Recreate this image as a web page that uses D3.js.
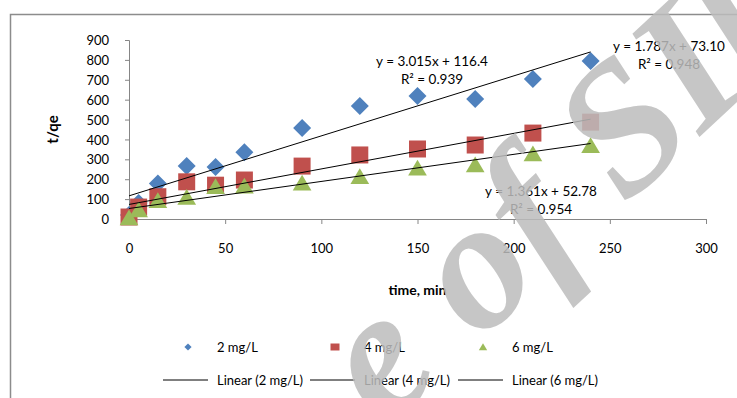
<!DOCTYPE html>
<html>
<head>
  <meta charset="utf-8">
  <title>t/qe vs time</title>
  <script src="https://d3js.org/d3.v7.min.js"></script>
  <style>
    body { margin: 0; background: #fff; }
    svg { display: block; font-family: Lato, 'Open Sans', sans-serif; }
    .tick text { font-size: 13px; fill: #000; }
  </style>
</head>
<body>
  <div id="chart"></div>
  <script>
    // time (min) and t/qe for each dose
    const times = [0, 5, 15, 30, 45, 60, 90, 120, 150, 180, 210, 240];
    const tq2 = [20, 80, 178, 267, 262, 335, 457, 568, 618, 603, 704, 795];
    const tq4 = [10, 60, 112, 187, 170, 196, 266, 322, 352, 372, 432, 487];
    const tq6 = [5, 45, 92, 108, 162, 165, 180, 212, 255, 272, 327, 368];
    const seriesNames = ["2 mg/L", "4 mg/L", "6 mg/L"];
    const colors = ["#4F81BD", "#C0504D", "#9BBB59"];

    // trendlines as drawn (slope, intercept)
    const slopes = [3.015, 1.787, 1.361];
    const intercepts = [116.4, 73.10, 52.78];
    const eqLabels = ["y = 3.015x + 116.4", "y = 1.787x + 73.10", "y = 1.361x + 52.78"];
    const r2Labels = ["R² = 0.939", "R² = 0.948", "R² = 0.954"];

    const xTicks = [0, 50, 100, 150, 200, 250, 300];
    const yTicks = [0, 100, 200, 300, 400, 500, 600, 700, 800, 900];

    const W = 737, H = 398;
    const svg = d3.select("#chart").append("svg")
      .attr("width", W).attr("height", H);

    // chart frame
    svg.append("rect")
      .attr("x", 10.5).attr("y", 14.5)
      .attr("width", 760).attr("height", 420)
      .attr("fill", "none").attr("stroke", "#8c8c8c").attr("stroke-width", 1.5);

    const x = d3.scaleLinear().domain([0, 300]).range([129, 706]);
    const y = d3.scaleLinear().domain([0, 900]).range([219, 40]);

    const xAxis = svg.append("g")
      .attr("transform", `translate(0,${y(0)})`)
      .call(d3.axisBottom(x).tickValues(xTicks).tickSize(5).tickPadding(20));
    const yAxis = svg.append("g")
      .attr("transform", `translate(${x(0)},0)`)
      .call(d3.axisLeft(y).tickValues(yTicks).tickSize(4).tickPadding(16));
    [xAxis, yAxis].forEach(g => {
      g.select(".domain").attr("stroke", "#868686");
      g.selectAll(".tick line").attr("stroke", "#868686");
      g.selectAll(".tick text").style("font-family", "Lato, sans-serif");
    });
    yAxis.selectAll(".tick text").attr("dy", "0.35em");

    svg.append("text")
      .attr("x", (x(0) + x(300)) / 2).attr("y", 295)
      .attr("text-anchor", "middle")
      .attr("font-size", 14).attr("font-weight", "bold")
      .text("time, min");
    svg.append("text")
      .attr("transform", `translate(58,${(y(0) + y(900)) / 2}) rotate(-90)`)
      .attr("text-anchor", "middle")
      .attr("font-size", 15).attr("font-weight", "bold")
      .text("t/qe");

    // marker shapes
    function marker(i, s) {
      if (i === 0) return `M0,${-s}L${s},0L0,${s}L${-s},0Z`;
      if (i === 1) return `M${-s},${-s}H${s}V${s}H${-s}Z`;
      return `M0,${-s}L${s * 1.1},${s * 0.85}H${-s * 1.1}Z`;
    }
    const markerSize = [9, 8.5, 8.5];
    const series = [tq2, tq4, tq6];

    series.forEach((vals, i) => {
      svg.append("g").selectAll("path")
        .data(times.map((t, k) => [t, vals[k]]))
        .join("path")
        .attr("transform", d => `translate(${x(d[0])},${y(d[1])})`)
        .attr("d", marker(i, markerSize[i]))
        .attr("fill", colors[i]);
    });

    // trendlines
    slopes.forEach((m, i) => {
      const t0 = 0, t1 = d3.max(times);
      svg.append("line")
        .attr("x1", x(t0)).attr("y1", y(intercepts[i] + m * t0))
        .attr("x2", x(t1)).attr("y2", y(intercepts[i] + m * t1))
        .attr("stroke", "#000").attr("stroke-width", 1);
    });

    // equation labels
    const eqPos = [[432, 66], [669, 51], [541, 196]];
    eqLabels.forEach((lab, i) => {
      const g = svg.append("g").attr("font-size", 13.5).attr("text-anchor", "middle").attr("fill", "#000");
      g.append("text").attr("x", eqPos[i][0]).attr("y", eqPos[i][1]).text(lab);
      g.append("text").attr("x", eqPos[i][0]).attr("y", eqPos[i][1] + 18).text(r2Labels[i]);
    });

    // legend
    const legend = svg.append("g").attr("font-size", 13);
    const legX = [188, 335, 483];
    const legSize = [3.6, 4, 3.8];
    seriesNames.forEach((name, i) => {
      legend.append("path")
        .attr("transform", `translate(${legX[i]},347)`)
        .attr("d", i === 1 ? "M-4.5,-3.5H4.5V3.5H-4.5Z" : marker(i, legSize[i]))
        .attr("fill", colors[i]);
      legend.append("text").attr("x", legX[i] + 29).attr("y", 352).text(name);
      legend.append("line")
        .attr("x1", legX[i] - 25).attr("x2", legX[i] + 20)
        .attr("y1", 380).attr("y2", 380)
        .attr("stroke", "#000").attr("stroke-width", 1);
      legend.append("text").attr("x", legX[i] + 29).attr("y", 385).text(`Linear (${name})`);
    });

    // watermark
    svg.append("text")
      .attr("transform", "translate(385,430) rotate(-43)")
      .attr("font-family", "'Liberation Serif', serif")
      .attr("font-style", "italic")
      .attr("font-weight", "bold")
      .attr("font-size", 185)
      .attr("fill", "#bdbdbd").attr("opacity", 0.85)
      .text("e of SIl");
  </script>
</body>
</html>
